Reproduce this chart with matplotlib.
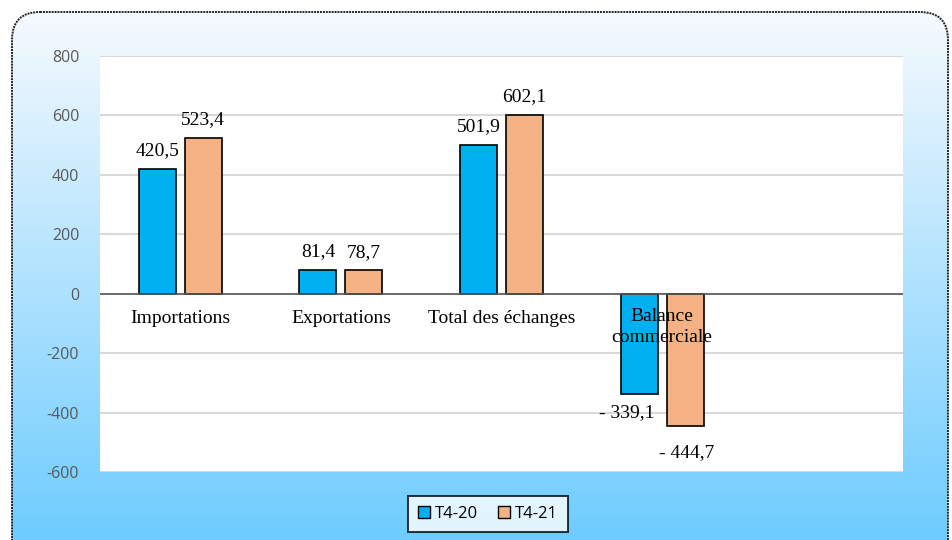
import numpy as np
import matplotlib.pyplot as plt
from matplotlib.patches import FancyBboxPatch, Patch

# Data
categories = ["Importations", "Exportations", "Total des échanges", "Balance\ncommerciale"]
t4_20 = [420.5, 81.4, 501.9, -339.1]
t4_21 = [523.4, 78.7, 602.1, -444.7]
series_names = ["T4-20", "T4-21"]
value_labels_20 = ["420,5", "81,4", "501,9", "- 339,1"]
value_labels_21 = ["523,4", "78,7", "602,1", "- 444,7"]

blue = "#00b0f0"
orange = "#f4b183"
serif = "Liberation Serif"

fig = plt.figure(figsize=(9.52, 5.4), dpi=100)
fig.patch.set_facecolor("white")

# Background panel with gradient and rounded border
bg = fig.add_axes([0, 0, 1, 1])
bg.set_xlim(0, 952)
bg.set_ylim(540, 0)
bg.axis("off")
box = FancyBboxPatch((12, 12), 936, 560, boxstyle="round,pad=0,rounding_size=28",
                     facecolor="none", edgecolor="#222222", linewidth=1.4,
                     linestyle=(0, (1, 0.5)), zorder=3)
bg.add_patch(box)
grad = np.linspace(0, 1, 256).reshape(-1, 1)
top = np.array([0.965, 0.98, 0.995])
bottom = np.array([0.43, 0.80, 1.0])
img = top + (bottom - top) * grad[:, :, None]
im = bg.imshow(img, extent=(12, 948, 540, 12), aspect="auto", zorder=1)
im.set_clip_path(box)

# Main chart
ax = fig.add_axes([100 / 952, 68 / 540, 803 / 952, 416 / 540])
ax.set_facecolor("white")
x = np.arange(len(categories))
w = 0.23
off = 0.143
b1 = ax.bar(x - off, t4_20, w, color=blue, edgecolor="black", linewidth=1.2, zorder=3, label=series_names[0])
b2 = ax.bar(x + off, t4_21, w, color=orange, edgecolor="black", linewidth=1.2, zorder=3, label=series_names[1])

ax.set_xlim(-0.5, 4.5)
ax.set_ylim(-600, 800)
ax.set_yticks(range(-600, 801, 200))
ax.set_yticklabels([str(v) for v in range(-600, 801, 200)], color="#595959",
                   fontsize=11.5, family="Open Sans")
ax.set_xticks([])
ax.tick_params(axis="y", length=0, pad=15)
for s in ax.spines.values():
    s.set_visible(False)
ax.grid(axis="y", color="#d9d9d9", linewidth=1.5, zorder=0)
ax.axhline(0, color="#595959", linewidth=1.2, zorder=4)

# Value labels
for bars, labels in ((b1, value_labels_20), (b2, value_labels_21)):
    for bar, lab in zip(bars, labels):
        h = bar.get_height()
        cx = bar.get_x() + bar.get_width() / 2
        if h >= 0:
            ax.annotate(lab, (cx, h), xytext=(0, 7), textcoords="offset points",
                        ha="center", va="bottom", fontsize=14, family=serif, zorder=5)
        elif lab == value_labels_20[3]:
            ax.annotate(lab, (cx, h), xytext=(-9, -7), textcoords="offset points",
                        ha="center", va="top", fontsize=14, family=serif, zorder=5)
        else:
            ax.annotate(lab, (cx, h), xytext=(1, -13), textcoords="offset points",
                        ha="center", va="top", fontsize=14, family=serif, zorder=5)

# Category labels
for xi, cat in zip(x, categories):
    yy = -112 if "\n" in cat else -83
    ax.text(xi, yy, cat, ha="center", va="center", fontsize=14, family=serif,
            linespacing=1.35, zorder=5)

# Legend
handles = [Patch(facecolor=blue, edgecolor="black", label=series_names[0]),
           Patch(facecolor=orange, edgecolor="black", label=series_names[1])]
leg = fig.legend(handles=handles, loc="center", bbox_to_anchor=(488 / 952, 1 - 514 / 540),
                 ncol=2, frameon=True, fancybox=False,
                 prop={"family": "Open Sans", "size": 12},
                 handlelength=0.7, handleheight=0.7, handletextpad=0.3, columnspacing=1.2,
                 borderpad=0.6, borderaxespad=0)
leg.get_frame().set_edgecolor("black")
leg.get_frame().set_linewidth(1.4)

fig.savefig("out.png", dpi=100)
